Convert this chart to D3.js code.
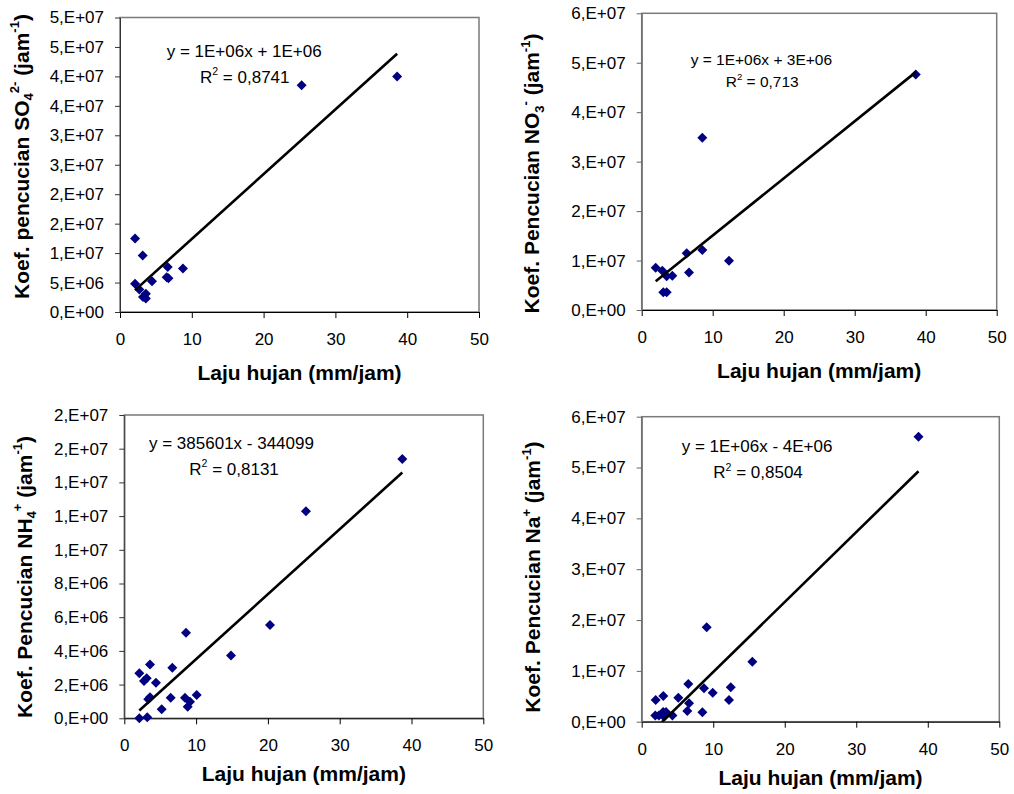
<!DOCTYPE html>
<html><head><meta charset="utf-8">
<script src="https://cdn.jsdelivr.net/npm/d3@7"></script>
<style>
body{margin:0;background:#fff}
svg{display:block}
text{font-family:"Liberation Sans",Arial,sans-serif}
</style>
</head><body>
<svg id="c" width="1014" height="794"></svg>
<script>
// ---------- DATA ----------
const xTickValues = [0, 10, 20, 30, 40, 50];
const xTickLabels = ["0", "10", "20", "30", "40", "50"];
const xTitle = "Laju hujan (mm/jam)";

// Panel 1: SO4 2-
const so4X = [2.1, 3.16, 2.1, 2.7, 3.6, 3.2, 3.6, 4.46, 6.64, 6.5, 6.75, 8.77, 25.3, 38.6];
const so4Y = [1.25e7, 9.6e6, 4.8e6, 3.8e6, 3.1e6, 2.55e6, 2.3e6, 5.2e6, 7.65e6, 5.9e6, 5.75e6, 7.4e6, 3.85e7, 4.0e7];
const so4TickValues = [0, 5e6, 1e7, 1.5e7, 2e7, 2.5e7, 3e7, 3.5e7, 4e7, 4.5e7, 5e7];
const so4TickLabels = ["0,E+00", "5,E+06", "1,E+07", "2,E+07", "2,E+07", "3,E+07", "3,E+07", "4,E+07", "4,E+07", "5,E+07", "5,E+07"];
const so4Trend = [1.1e6, 1.4e6];           // slope, intercept
const so4Eq = "y = 1E+06x + 1E+06";
const so4R2 = "0,8741";
const so4Title = [["Koef. pencucian SO", "n"], ["4", "sub"], ["2-", "sup"], [" (jam", "n"], ["-1", "sup"], [")", "n"]];

// Panel 2: NO3 -
const no3X = [1.97, 2.9, 3.52, 4.31, 3.04, 3.52, 6.34, 6.66, 8.54, 8.54, 12.3, 38.6];
const no3Y = [8.55e6, 7.95e6, 6.8e6, 6.94e6, 3.6e6, 3.6e6, 1.147e7, 7.6e6, 1.213e7, 3.485e7, 9.97e6, 4.76e7];
const no3TickValues = [0, 1e7, 2e7, 3e7, 4e7, 5e7, 6e7];
const no3TickLabels = ["0,E+00", "1,E+07", "2,E+07", "3,E+07", "4,E+07", "5,E+07", "6,E+07"];
const no3Trend = [1.155e6, 3.52e6];
const no3Eq = "y = 1E+06x + 3E+06";
const no3R2 = "0,713";
const no3Title = [["Koef. Pencucian NO", "n"], ["3", "sub"], ["-", "sup"], [" (jam", "n"], ["-1", "sup"], [")", "n"]];

// Panel 3: NH4 +
const nh4X = [2.09, 3.58, 2.74, 3.12, 4.41, 6.69, 8.59, 14.86, 20.29, 3.34, 3.58, 6.46, 5.21, 2.09, 3.2, 8.45, 9.15, 8.83, 10.08, 25.3, 38.72];
const nh4Y = [2.67e6, 3.2e6, 2.21e6, 2.37e6, 2.11e6, 3.0e6, 5.08e6, 3.72e6, 5.54e6, 1.13e6, 1.25e6, 1.22e6, 0.53e6, 0, 0.06e6, 1.22e6, 0.98e6, 0.69e6, 1.38e6, 1.229e7, 1.539e7];
const nh4TickValues = [0, 2e6, 4e6, 6e6, 8e6, 1e7, 1.2e7, 1.4e7, 1.6e7, 1.8e7];
const nh4TickLabels = ["0,E+00", "2,E+06", "4,E+06", "6,E+06", "8,E+06", "1,E+07", "1,E+07", "1,E+07", "2,E+07", "2,E+07"];
const nh4Trend = [385601, -344099];
const nh4Eq = "y = 385601x - 344099";
const nh4R2 = "0,8131";
const nh4Title = [["Koef. Pencucian NH", "n"], ["4", "sub"], ["+", "sup"], [" (jam", "n"], ["-1", "sup"], [")", "n"]];

// Panel 4: Na +
const naX = [1.96, 3.02, 5.12, 6.52, 8.71, 9.93, 12.45, 12.21, 15.47, 9.09, 6.62, 6.38, 8.48, 1.9, 2.4, 3.0, 3.4, 3.1, 4.3, 38.7];
const naY = [4.27e6, 5.06e6, 4.72e6, 7.42e6, 6.57e6, 5.71e6, 6.77e6, 4.27e6, 11.8e6, 18.57e6, 3.62e6, 2.1e6, 1.85e6, 1.2e6, 1.2e6, 1.9e6, 1.9e6, 1.0e6, 1.2e6, 56.07e6];
const naTickValues = [0, 1e7, 2e7, 3e7, 4e7, 5e7, 6e7];
const naTickLabels = ["0,E+00", "1,E+07", "2,E+07", "3,E+07", "4,E+07", "5,E+07", "6,E+07"];
const naTrend = [1.376e6, -3.98e6];
const naEq = "y = 1E+06x - 4E+06";
const naR2 = "0,8504";
const naTitle = [["Koef. Pencucian Na", "n"], ["+", "sup"], [" (jam", "n"], ["-1", "sup"], [")", "n"]];

// ---------- LAYOUT ----------
const layout = [
  {l: 120,   r: 479,   t: 17.5,  b: 312,   tx: 28.5, ty: 156.5, eqX: 166.7, eqY: 57,    r2X: 200,   r2Y: 83,    eqSize: 17},
  {l: 641.7, r: 996.7, t: 13.3,  b: 310,   tx: 539,  ty: 173.5, eqX: 690.7, eqY: 65,    r2X: 725.7, r2Y: 87.3,  eqSize: 15.5},
  {l: 124.3, r: 483.3, t: 415,   b: 718.3, tx: 31.5, ty: 577,   eqX: 149,   eqY: 449.3, r2X: 189.3, r2Y: 475,   eqSize: 17},
  {l: 641.7, r: 999.3, t: 416.7, b: 721.7, tx: 540,  ty: 577,   eqX: 681.7, eqY: 451.7, r2X: 713.3, r2Y: 478.3, eqSize: 17}
];

const panels = [
  {X: so4X, Y: so4Y, yt: so4TickValues, yl: so4TickLabels, trend: so4Trend, eq: so4Eq, r2: so4R2, title: so4Title},
  {X: no3X, Y: no3Y, yt: no3TickValues, yl: no3TickLabels, trend: no3Trend, eq: no3Eq, r2: no3R2, title: no3Title},
  {X: nh4X, Y: nh4Y, yt: nh4TickValues, yl: nh4TickLabels, trend: nh4Trend, eq: nh4Eq, r2: nh4R2, title: nh4Title},
  {X: naX,  Y: naY,  yt: naTickValues,  yl: naTickLabels,  trend: naTrend,  eq: naEq,  r2: naR2,  title: naTitle}
];

const FONT = '"Liberation Sans", Arial, sans-serif';
const svg = d3.select("#c");
const diamond = r => `M0,${-r}L${r},0L0,${r}L${-r},0Z`;

function richText(sel, parts, size) {
  let shift = 0;
  parts.forEach(([txt, kind]) => {
    let target = 0, fs = size;
    if (kind === "sub") { target = 0.22 * size; fs = size * 0.62; }
    if (kind === "sup") { target = -0.45 * size; fs = size * 0.62; }
    sel.append("tspan").attr("dy", target - shift).attr("font-size", fs).text(txt);
    shift = target;
  });
}

panels.forEach((p, i) => {
  const L = layout[i];
  const g = svg.append("g");
  const x = d3.scaleLinear().domain([0, 50]).range([L.l, L.r]);
  const y = d3.scaleLinear().domain([p.yt[0], p.yt[p.yt.length - 1]]).range([L.b, L.t]);

  // plot area border (top/right)
  g.append("rect").attr("x", L.l).attr("y", L.t).attr("width", L.r - L.l).attr("height", L.b - L.t)
    .attr("fill", "none").attr("stroke", "#7a7a7a").attr("stroke-width", 1.5);

  // x axis
  const xa = g.append("g").attr("transform", `translate(0,${L.b})`)
    .call(d3.axisBottom(x).tickValues(xTickValues).tickFormat((d, k) => xTickLabels[k])
      .tickSizeInner(6).tickSizeOuter(0).tickPadding(15));
  xa.attr("font-size", 17).attr("font-family", FONT);
  xa.selectAll("text").attr("fill", "#000");
  xa.selectAll("line,path").attr("stroke", "#000");

  // y axis
  const ya = g.append("g").attr("transform", `translate(${L.l},0)`)
    .call(d3.axisLeft(y).tickValues(p.yt).tickFormat((d, k) => p.yl[k])
      .tickSizeInner(5).tickSizeOuter(0).tickPadding(11));
  ya.attr("font-size", 17).attr("font-family", FONT);
  ya.selectAll("text").attr("fill", "#000");
  ya.selectAll("line,path").attr("stroke", i % 2 ? "#666" : "#333");

  // clip
  const cid = "clip" + i;
  svg.append("clipPath").attr("id", cid).append("rect")
    .attr("x", L.l).attr("y", L.t).attr("width", L.r - L.l).attr("height", L.b - L.t);

  // points
  g.append("g").selectAll("path").data(p.X.map((v, k) => [v, p.Y[k]])).join("path")
    .attr("d", diamond(5)).attr("fill", "#000080")
    .attr("transform", d => `translate(${x(d[0])},${y(d[1])})`);

  // trend line
  const x0 = d3.min(p.X), x1 = d3.max(p.X);
  const f = v => p.trend[0] * v + p.trend[1];
  g.append("line").attr("clip-path", `url(#${cid})`)
    .attr("x1", x(x0)).attr("y1", y(f(x0))).attr("x2", x(x1)).attr("y2", y(f(x1)))
    .attr("stroke", "#000").attr("stroke-width", 2.6);

  // equation
  g.append("text").attr("x", L.eqX).attr("y", L.eqY).attr("font-size", L.eqSize).text(p.eq);
  const r2 = g.append("text").attr("x", L.r2X).attr("y", L.r2Y).attr("font-size", L.eqSize);
  richText(r2, [["R", "n"], ["2", "sup"], [" = " + p.r2, "n"]], L.eqSize);

  // x title
  g.append("text").attr("x", (L.l + L.r) / 2).attr("y", L.b + (i < 2 ? 68 : 63))
    .attr("text-anchor", "middle").attr("font-size", 21).attr("font-weight", "bold").text(xTitle);

  // y title
  const yt = g.append("text").attr("transform", `translate(${L.tx},${L.ty}) rotate(-90)`)
    .attr("text-anchor", "middle").attr("font-size", 21).attr("font-weight", "bold");
  richText(yt, p.title, 21);
});
</script>
</body></html>
